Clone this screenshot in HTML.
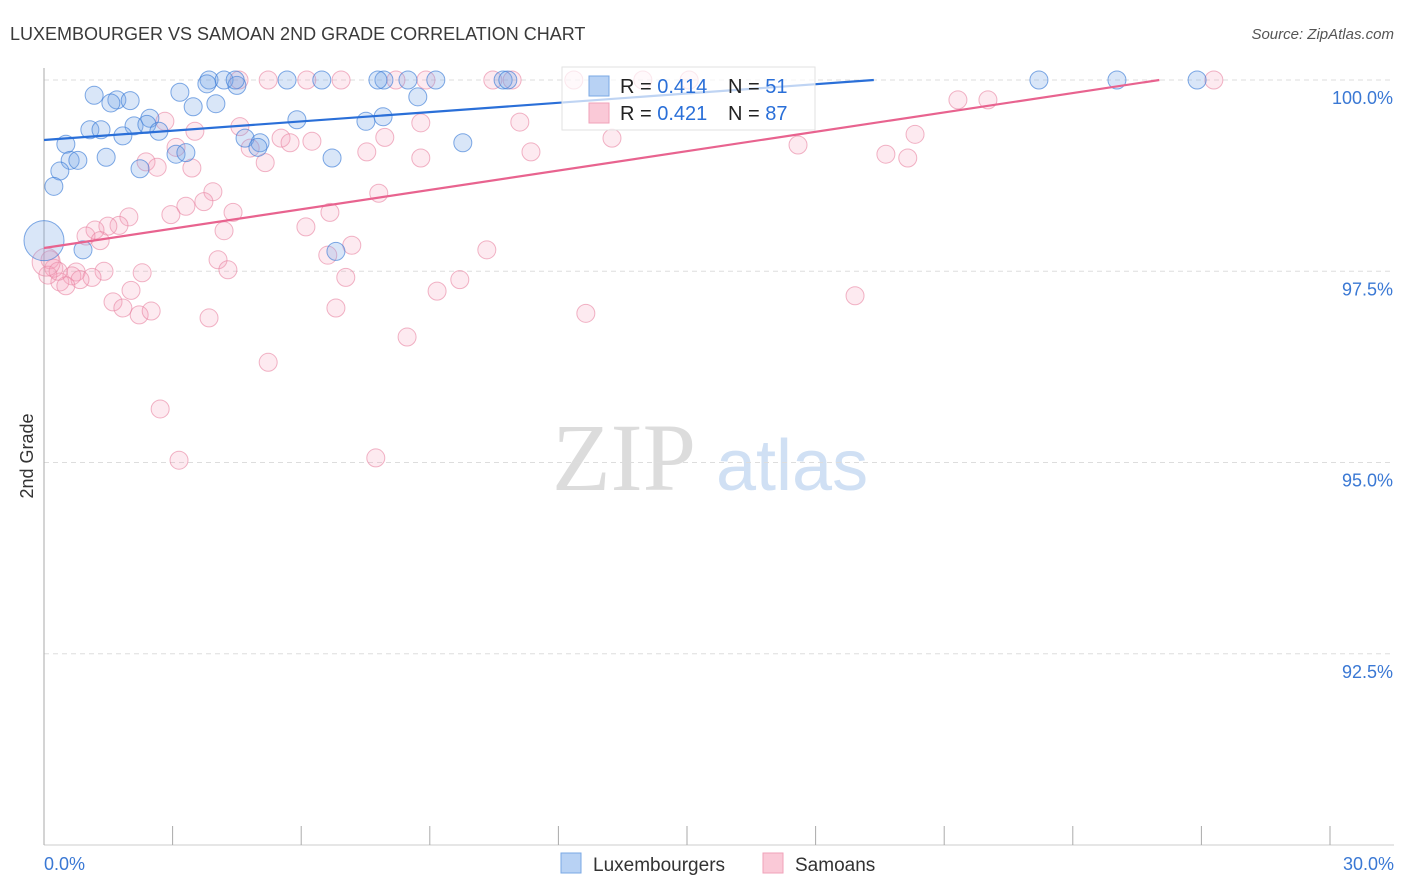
<!DOCTYPE html>
<html><head><meta charset="utf-8"><style>
body{margin:0;background:#fff;font-family:"Liberation Sans",sans-serif;}
svg{display:block}
</style></head><body>
<svg id="chart" width="1406" height="892">
<text x="10" y="40" font-size="18" fill="#3a3a3a">LUXEMBOURGER VS SAMOAN 2ND GRADE CORRELATION CHART</text>
<text x="1394" y="39" font-size="15" fill="#555" font-style="italic" text-anchor="end">Source: ZipAtlas.com</text>
<text x="33" y="456" font-size="18" fill="#333" text-anchor="middle" transform="rotate(-90 33 456)">2nd Grade</text>
<g>
<text x="552" y="490" font-size="96" font-family="Liberation Serif,serif" fill="#dcdcdc">ZIP</text>
<text x="716" y="490" font-size="72" fill="#d0e0f4">atlas</text>
</g>
<g id="grid"></g>
<g id="axes"></g>
<g id="pts"></g>
<g id="lines"></g>
<g>
<rect x="562" y="67" width="253" height="63" fill="rgba(255,255,255,0.7)" stroke="#e2e2e2"/>
<rect x="589" y="76" width="20" height="20" fill="#b8d2f4" stroke="#7aa8e4"/>
<rect x="589" y="103" width="20" height="20" fill="#fac9d7" stroke="#f0a2ba"/>
<text x="620" y="93" font-size="20" fill="#222">R = <tspan fill="#2a6fd8">0.414</tspan></text>
<text x="728" y="93" font-size="20" fill="#222">N = <tspan fill="#2a6fd8">51</tspan></text>
<text x="620" y="120" font-size="20" fill="#222">R = <tspan fill="#2a6fd8">0.421</tspan></text>
<text x="728" y="120" font-size="20" fill="#222">N = <tspan fill="#2a6fd8">87</tspan></text>
</g>
<g>
<rect x="561" y="853" width="20" height="20" fill="#b8d2f4" stroke="#7aa8e4"/>
<text x="593" y="871" font-size="19" fill="#333">Luxembourgers</text>
<rect x="763" y="853" width="20" height="20" fill="#fac9d7" stroke="#f0a2ba"/>
<text x="795" y="871" font-size="19" fill="#333">Samoans</text>
</g>
</svg>
<script>
const yTicks=[100,97.5,95,92.5];
const yTickLabels=["100.0%","97.5%","95.0%","92.5%"];
const xTickLabels=["0.0%","30.0%"];
const luxX=[1.17,1.70,2.01,1.56,3.85,4.20,3.80,4.50,5.67,6.48,7.93,8.49,9.14,10.71,10.82,23.21,25.03,26.90,3.17,3.48,4.01,8.72,2.47,1.07,1.33,2.10,2.40,2.68,1.84,5.90,7.51,7.91,0.51,4.69,5.04,4.99,0.61,0.79,1.45,3.08,3.31,6.72,9.77,0.37,2.24,0.23,0.91,6.81,4.46,7.79];
const luxY=[99.80,99.74,99.73,99.70,100,100,99.95,99.93,100,100,100,100,100,100,100,100,100,100,99.84,99.65,99.69,99.78,99.50,99.35,99.35,99.40,99.42,99.33,99.27,99.48,99.46,99.52,99.16,99.24,99.18,99.12,98.95,98.95,98.99,99.03,99.05,98.98,99.18,98.81,98.84,98.61,97.78,97.76,100,100];
const samX=[4.55,5.23,6.13,6.93,8.21,8.91,10.47,10.92,12.36,13.97,15.05,27.29,2.82,3.52,4.57,5.53,5.74,6.25,7.95,8.79,11.10,13.25,11.36,7.53,8.79,4.81,5.16,2.38,2.64,3.45,19.64,20.15,20.32,21.32,22.02,17.59,3.08,7.81,3.94,3.73,4.41,1.98,3.31,2.96,1.75,1.49,1.19,0.98,1.31,4.20,6.11,6.67,7.18,6.62,10.33,4.06,4.29,0.75,1.40,2.29,0.65,1.12,0.84,0.37,0.51,7.04,9.70,2.03,9.17,18.92,1.61,1.84,2.22,2.50,3.85,6.81,12.64,8.47,5.23,2.71,3.15,7.74,0.14,0.23,0.09,0.33];
const samY=[100,100,100,100,100,100,100,100,100,100,100,100,99.46,99.33,99.39,99.24,99.18,99.20,99.25,99.44,99.45,99.24,99.06,99.06,98.98,99.11,98.92,98.93,98.86,98.85,99.03,98.98,99.29,99.74,99.74,99.15,99.12,98.52,98.54,98.41,98.27,98.21,98.35,98.24,98.10,98.09,98.04,97.96,97.90,98.03,98.08,98.27,97.84,97.71,97.78,97.65,97.52,97.49,97.50,97.48,97.44,97.42,97.39,97.36,97.31,97.42,97.39,97.25,97.24,97.18,97.10,97.02,96.93,96.98,96.89,97.02,96.95,96.64,96.31,95.70,95.03,95.06,97.65,97.54,97.45,97.50];
const bigLux=[0.0,97.90];
const bigSam=[0.05,97.62];
const luxLine=[99.216,0.0405];
const samLine=[97.804,0.0844];

const X=v=>44+v*(1286/30);
const Y=v=>80+(100-v)*76.5;
const NS='http://www.w3.org/2000/svg';
function mk(t,a,p){const e=document.createElementNS(NS,t);for(const k in a)e.setAttribute(k,a[k]);p.appendChild(e);return e;}
const grid=document.getElementById('grid'),axes=document.getElementById('axes'),pts=document.getElementById('pts'),lines=document.getElementById('lines');
yTicks.forEach((t,i)=>{
 const l=mk('line',{x1:44,x2:1394,y1:Y(t),y2:Y(t),stroke:'#ddd','stroke-dasharray':'5,4'},grid);
 
 
 const tx=mk('text',{x:1393,y:Y(t)+24,'font-size':18,fill:'#3a78d4','text-anchor':'end'},axes);
 tx.textContent=yTickLabels[i];
 
 
});
let a=mk('line',{x1:44,x2:44,y1:68,y2:845,stroke:'#aaa'},axes);


a=mk('line',{x1:44,x2:1394,y1:845,y2:845,stroke:'#ccc'},axes);


for(let i=0;i<=10;i++){
 const t=mk('line',{x1:X(i*3),x2:X(i*3),y1:826,y2:845,stroke:'#aaa'},axes);
 
 
}
let xl=mk('text',{x:44,y:870,'font-size':18,fill:'#3a78d4'},axes);xl.textContent=xTickLabels[0];


xl=mk('text',{x:1394,y:870,'font-size':18,fill:'#3a78d4','text-anchor':'end'},axes);xl.textContent=xTickLabels[1];


function dot(x,y,r,f,s,name){
 const c=mk('circle',{cx:X(x),cy:Y(y),r:r,fill:f,stroke:s,'stroke-width':1},pts);
 
 
}
const sf='rgba(245,160,185,0.22)',ss='rgba(232,130,160,0.6)';
const bf='rgba(120,165,230,0.28)',bs='rgba(60,125,215,0.65)';
samX.forEach((x,i)=>dot(x,samY[i],9,sf,ss,'samoan-point'));
dot(bigSam[0],bigSam[1],14,sf,ss,'samoan-point');
luxX.forEach((x,i)=>dot(x,luxY[i],9,bf,bs,'luxembourger-point'));
dot(bigLux[0],bigLux[1],20,bf,bs,'luxembourger-point');
function reg(p,col,name){
 const xe=Math.min(30,(100-p[0])/p[1]);
 const l=mk('line',{x1:X(0),y1:Y(p[0]),x2:X(xe),y2:Y(p[0]+p[1]*xe),stroke:col,'stroke-width':2.2},lines);
 
 
}
reg(luxLine,'#2a6fd8','luxembourger-trend-line');
reg(samLine,'#e8638f','samoan-trend-line');
</script>
</body></html>
